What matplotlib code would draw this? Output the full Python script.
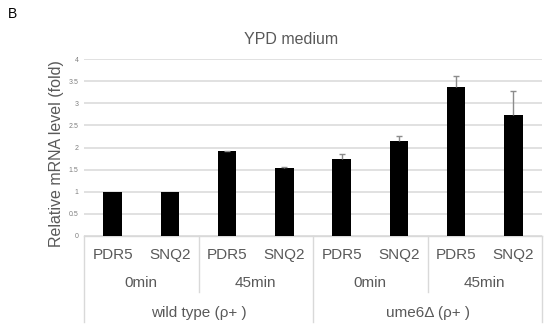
import matplotlib
matplotlib.use("Agg")
import matplotlib.pyplot as plt
import matplotlib.transforms as mtransforms
import numpy as np

plt.rcParams['font.family'] = ['Liberation Sans', 'DejaVu Sans']

genes = ["PDR5", "SNQ2", "PDR5", "SNQ2", "PDR5", "SNQ2", "PDR5", "SNQ2"]
times = ["0min", "45min", "0min", "45min"]
strains = ["wild type (ρ+ )", "ume6Δ (ρ+ )"]
values = [1.0, 1.0, 1.91, 1.53, 1.74, 2.15, 3.37, 2.73]
errors = [0.0, 0.0, 0.02, 0.04, 0.12, 0.12, 0.24, 0.55]
yticks = [0, 0.5, 1, 1.5, 2, 2.5, 3, 3.5, 4]
ytick_labels = ["0", "0.5", "1", "1.5", "2", "2.5", "3", "3.5", "4"]

W, H = 550, 328
fig = plt.figure(figsize=(W / 100, H / 100), dpi=100)
ax = fig.add_axes([84 / W, (H - 236) / H, (542 - 84) / W, (236 - 59) / H])

x = np.arange(len(values))
v = np.array(values)
e = np.array(errors)
ax.bar(x, v, width=0.32, color="black", zorder=3)
has = e > 0
ax.vlines(x[has], v[has], v[has] + e[has], color="#8c8c8c", lw=1, zorder=4)
ax.plot(x[has], v[has] + e[has], linestyle="none", marker="_", markersize=4,
        markeredgewidth=1, color="#8c8c8c", zorder=4)

ax.set_xlim(-0.5, len(values) - 0.5)
ax.set_ylim(0, 4)
ax.set_yticks(yticks)
ax.set_yticklabels(ytick_labels, fontsize=5, color="#808080")
ax.tick_params(axis="y", length=0, pad=4)
ax.set_xticks([])
for s in ax.spines.values():
    s.set_visible(False)
ax.grid(axis="y", color="#d9d9d9", linewidth=1.1, zorder=0)
ax.set_axisbelow(True)

ax.set_ylabel("Relative mRNA level (fold)", fontsize=11.5, color="#595959")
ax.yaxis.set_label_coords((64 - 84) / (542 - 84), 0.463)
fig.text(291.5 / W, 1 - 40 / H, "YPD medium", fontsize=11.5, color="#595959",
         ha="center", va="center")
fig.text(8 / W, 1 - 14 / H, "B", fontsize=10, color="black", va="center", ha="left")

tr = mtransforms.blended_transform_factory(ax.transData, fig.transFigure)
def fy(py):
    return 1 - py / H

# baseline
ax.plot([-0.5, len(values) - 0.5], [fy(236), fy(236)], transform=tr,
        color="#d9d9d9", lw=1, clip_on=False)

lab_color = "#595959"
for i, g in enumerate(genes):
    ax.text(i, fy(255), g, transform=tr, ha="center", va="center",
            fontsize=11, color=lab_color)
for j, t in enumerate(times):
    ax.text(2 * j + 0.5, fy(283), t, transform=tr, ha="center", va="center",
            fontsize=11, color=lab_color)
for k, s in enumerate(strains):
    ax.text(4 * k + 1.5, fy(313), s, transform=tr, ha="center", va="center",
            fontsize=11, color=lab_color)

# separators
for b in [-0.5, 3.5, 7.5]:
    ax.plot([b, b], [fy(236), fy(322)], transform=tr, color="#d9d9d9", lw=1, clip_on=False)
for b in [1.5, 5.5]:
    ax.plot([b, b], [fy(236), fy(292)], transform=tr, color="#d9d9d9", lw=1, clip_on=False)

fig.savefig("out.png", dpi=100)
